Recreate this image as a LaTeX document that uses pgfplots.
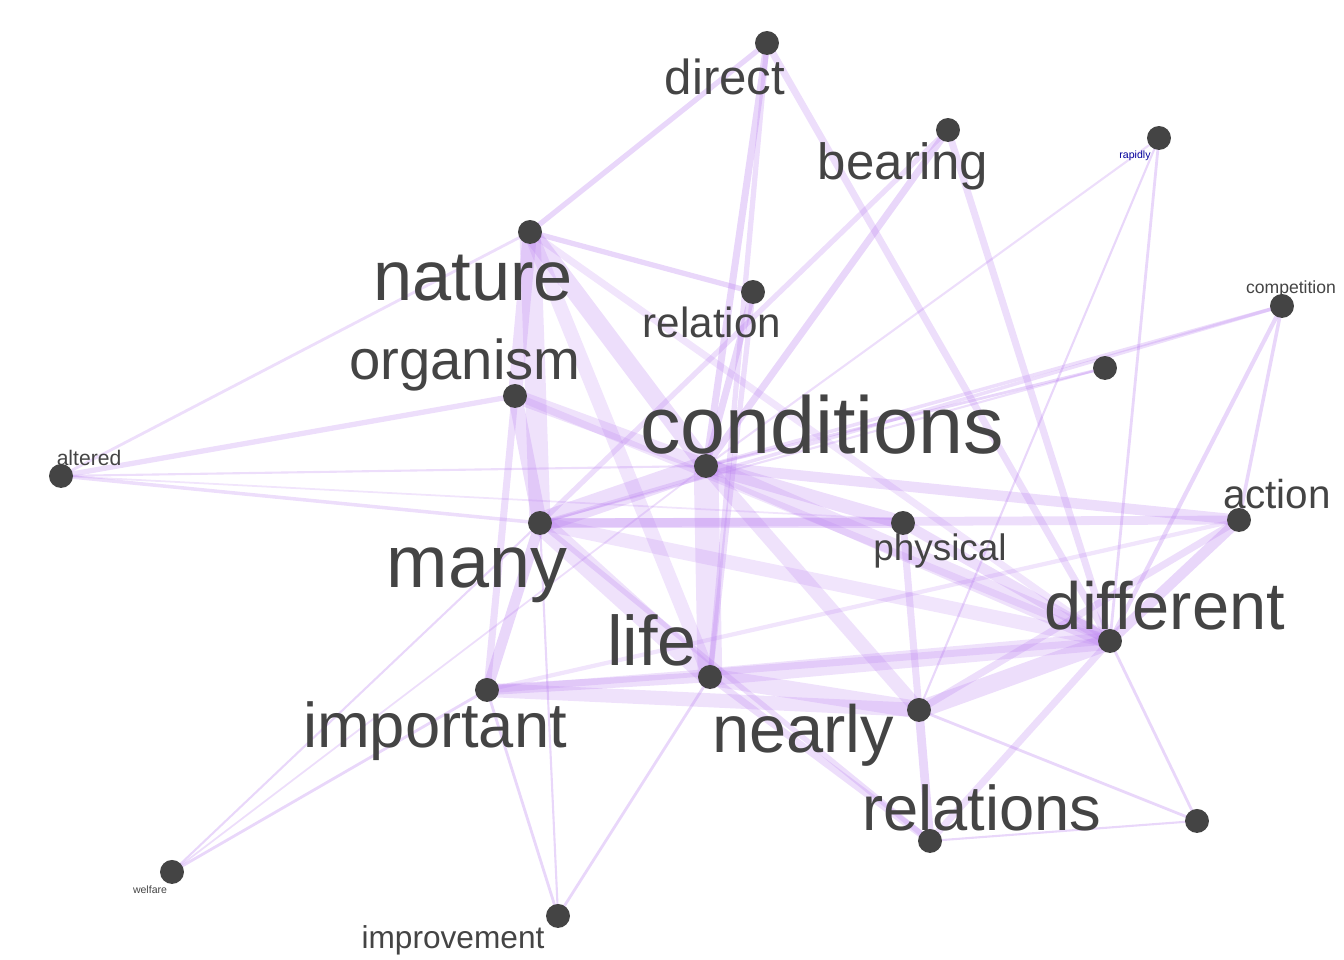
\documentclass[border=0pt]{standalone}
\usepackage{pgfplots}
\pgfplotsset{compat=1.18}
\usepackage{fontspec}
\setmainfont{Liberation Sans}
\definecolor{edge}{HTML}{B77BEF}
\definecolor{lab}{HTML}{444444}
\newcommand\E[6]{\addplot[color=edge,line width=#5,opacity=#6,line cap=round] coordinates {(#1,#2)(#3,#4)};}
\newcommand\Lb[4]{\node[text=lab,font=\fontsize{#3}{#3}\selectfont,inner sep=0pt] at (axis cs:#1,#2) {#4};}
\begin{document}
\begin{tikzpicture}
\begin{axis}[width=13.44cm,height=9.6cm,scale only axis,xmin=0,xmax=1344,ymin=0,ymax=960,y dir=reverse,hide axis,clip=false]
\path (axis cs:0,0) (axis cs:1344,960);
\E{706}{466}{540}{523}{6pt}{0.25}
\E{706}{466}{530}{232}{5pt}{0.25}
\E{706}{466}{710}{677}{7pt}{0.22}
\E{706}{466}{1110}{641}{5pt}{0.22}
\E{706}{466}{903}{523}{4pt}{0.25}
\E{540}{523}{530}{232}{6pt}{0.22}
\E{540}{523}{710}{677}{6pt}{0.22}
\E{540}{523}{487}{690}{3pt}{0.3}
\E{540}{523}{515}{396}{4pt}{0.25}
\E{530}{232}{515}{396}{4pt}{0.25}
\E{710}{677}{919}{710}{5pt}{0.22}
\E{710}{677}{1110}{641}{5pt}{0.22}
\E{919}{710}{1110}{641}{5pt}{0.25}
\E{919}{710}{930}{841}{2.5pt}{0.3}
\E{540}{523}{1110}{641}{4pt}{0.2}
\E{540}{523}{903}{523}{3pt}{0.25}
\E{706}{466}{919}{710}{4pt}{0.22}
\E{710}{677}{487}{690}{3pt}{0.25}
\E{530}{232}{710}{677}{4pt}{0.2}
\E{706}{466}{515}{396}{4pt}{0.22}
\E{540}{523}{1239}{520}{2.5pt}{0.25}
\E{903}{523}{1110}{641}{3pt}{0.25}
\E{1239}{520}{1110}{641}{3pt}{0.3}
\E{706}{466}{1239}{520}{3pt}{0.25}
\E{767}{43}{706}{466}{2pt}{0.3}
\E{767}{43}{530}{232}{1.5pt}{0.3}
\E{767}{43}{710}{677}{1.5pt}{0.25}
\E{767}{43}{1110}{641}{2pt}{0.25}
\E{948}{130}{706}{466}{2pt}{0.3}
\E{948}{130}{1110}{641}{2pt}{0.25}
\E{948}{130}{540}{523}{1.5pt}{0.25}
\E{753}{292}{706}{466}{2pt}{0.3}
\E{753}{292}{530}{232}{1.5pt}{0.3}
\E{753}{292}{710}{677}{1.5pt}{0.25}
\E{487}{690}{919}{710}{4pt}{0.22}
\E{487}{690}{1110}{641}{2pt}{0.22}
\E{61}{476}{515}{396}{1.5pt}{0.25}
\E{61}{476}{530}{232}{0.8pt}{0.25}
\E{61}{476}{540}{523}{1pt}{0.25}
\E{61}{476}{706}{466}{0.6pt}{0.25}
\E{61}{476}{910}{520}{0.5pt}{0.2}
\E{172}{872}{487}{690}{0.8pt}{0.3}
\E{172}{872}{540}{523}{0.6pt}{0.3}
\E{172}{872}{706}{466}{0.5pt}{0.25}
\E{558}{916}{487}{690}{0.8pt}{0.3}
\E{558}{916}{710}{677}{0.8pt}{0.3}
\E{558}{916}{540}{523}{0.6pt}{0.3}
\E{1159}{138}{1110}{641}{0.8pt}{0.3}
\E{1159}{138}{919}{710}{0.6pt}{0.3}
\E{1159}{138}{706}{466}{0.6pt}{0.25}
\E{1282}{306}{1110}{641}{1.2pt}{0.3}
\E{1282}{306}{706}{466}{1pt}{0.25}
\E{1282}{306}{1239}{520}{1pt}{0.3}
\E{1282}{306}{540}{523}{1pt}{0.25}
\E{1105}{368}{706}{466}{0.8pt}{0.3}
\E{1105}{368}{540}{523}{0.6pt}{0.25}
\E{1197}{821}{919}{710}{0.8pt}{0.3}
\E{1197}{821}{1110}{641}{0.8pt}{0.3}
\E{1197}{821}{930}{841}{0.6pt}{0.3}
\E{930}{841}{1110}{641}{2pt}{0.25}
\E{930}{841}{710}{677}{2pt}{0.25}
\E{930}{841}{540}{523}{1.5pt}{0.25}
\E{515}{396}{1110}{641}{2pt}{0.2}
\E{515}{396}{487}{690}{2pt}{0.25}
\E{530}{232}{1110}{641}{2pt}{0.2}
\E{1239}{520}{919}{710}{2pt}{0.25}
\E{903}{523}{919}{710}{2pt}{0.25}
\E{487}{690}{1239}{520}{1.2pt}{0.2}
\addplot[only marks,mark=*,mark size=3.2pt,color=lab] coordinates {
(767,43)(948,130)(1159,138)(530,232)(753,292)(1282,306)(1105,368)(515,396)(706,466)(61,476)(1239,520)(903,523)(540,523)(1110,641)(710,677)(487,690)(919,710)(930,841)(1197,821)(172,872)(558,916)};
\Lb{725}{77}{14pt}{direct}
\Lb{903}{166}{14.5pt}{bearing}
\Lb{1135}{156}{3pt}{\textcolor{blue!60!black}{rapidly}}
\Lb{473}{278}{20pt}{nature}
\Lb{712}{322}{12pt}{relation}
\Lb{1291}{289}{5pt}{competition}
\Lb{465}{365}{16pt}{organism}
\Lb{822}{425}{23pt}{conditions}
\Lb{89}{458}{6pt}{altered}
\Lb{1277}{494}{11.5pt}{action}
\Lb{940}{551}{10.5pt}{physical}
\Lb{477}{575}{21pt}{many}
\Lb{1165}{606}{19pt}{different}
\Lb{652}{640}{20pt}{life}
\Lb{435}{731}{18pt}{important}
\Lb{803}{735}{19pt}{nearly}
\Lb{982}{808}{18pt}{relations}
\Lb{150}{890}{3pt}{welfare}
\Lb{453}{940}{9pt}{improvement}
\end{axis}
\end{tikzpicture}
\end{document}
